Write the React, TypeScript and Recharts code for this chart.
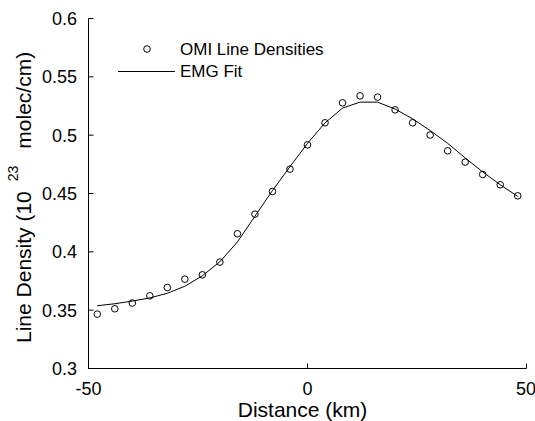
import { ComposedChart, Line, XAxis, YAxis, Legend } from "recharts";

const FONT = "'Liberation Sans', Arial, sans-serif";

const distances = [
  -48, -44, -40, -36, -32, -28, -24, -20, -16, -12, -8, -4, 0, 4, 8, 12, 16,
  20, 24, 28, 32, 36, 40, 44, 48,
];
const omiDensities = [
  0.3466, 0.3512, 0.3561, 0.3623, 0.3694, 0.3766, 0.3803, 0.3912, 0.4155,
  0.4323, 0.4517, 0.4709, 0.4917, 0.5106, 0.5277, 0.5337, 0.5326, 0.5217,
  0.5106, 0.5001, 0.4866, 0.4769, 0.4663, 0.4575, 0.448,
];
const emgFit = [
  0.3538, 0.3555, 0.3578, 0.3605, 0.3645, 0.3705, 0.3795, 0.3915, 0.4085,
  0.4305, 0.4525, 0.473, 0.493, 0.5105, 0.5232, 0.5283, 0.5283, 0.5224,
  0.514, 0.504, 0.493, 0.4805, 0.4685, 0.4575, 0.4475,
];
const xTicks = [-50, 0, 50];
const yTicks = [0.3, 0.35, 0.4, 0.45, 0.5, 0.55, 0.6];

const data = distances.map((x, i) => ({
  x,
  obs: omiDensities[i],
  fit: emgFit[i],
}));

const tickStyle = { fontSize: 18, fontFamily: FONT, fill: "#000" };

function YTitle() {
  return (
    <text
      transform="translate(31, 343) rotate(-90)"
      fontSize={21}
      fontFamily={FONT}
      fill="#000"
    >
      <tspan>Line Density (10</tspan>
      <tspan dx={10} dy={-13} fontSize={14}>
        23
      </tspan>
      <tspan dx={17} dy={13}>
        molec/cm)
      </tspan>
    </text>
  );
}

function XTitle(props: any) {
  const vb = props.viewBox || { x: 88.5, width: 438 };
  return (
    <text
      x={vb.x + vb.width / 2 - 5}
      y={417}
      textAnchor="middle"
      fontSize={21}
      fontFamily={FONT}
      fill="#000"
    >
      Distance (km)
    </text>
  );
}

function LegendBox() {
  return (
    <svg width={230} height={46} style={{ display: "block" }}>
      <circle cx={37} cy={11} r={3.3} fill="none" stroke="#000" strokeWidth={1} />
      <text x={70} y={17} fontSize={17} fontFamily={FONT} fill="#000">
        OMI Line Densities
      </text>
      <line x1={8} x2={65} y1={33.5} y2={33.5} stroke="#000" strokeWidth={1} />
      <text x={70} y={39} fontSize={17} fontFamily={FONT} fill="#000">
        EMG Fit
      </text>
    </svg>
  );
}

export default function App() {
  return (
    <div style={{ position: "absolute", left: 0, top: 0, background: "#fff" }}>
      <ComposedChart
        width={535}
        height={421}
        data={data}
        margin={{ top: 18.5, right: 8.5, left: 8.5, bottom: 12.5 }}
      >
        <XAxis
          dataKey="x"
          type="number"
          domain={[-50, 50]}
          ticks={xTicks}
          allowDataOverflow
          height={40}
          stroke="#000"
          tickSize={-5}
          tickMargin={18.5}
          tick={tickStyle}
          label={<XTitle />}
        />
        <YAxis
          type="number"
          domain={[0.3, 0.6]}
          ticks={yTicks}
          allowDataOverflow
          width={80}
          stroke="#000"
          tickSize={-5}
          tickMargin={16.5}
          tick={tickStyle}
          label={<YTitle />}
        />
        <Legend
          layout="vertical"
          verticalAlign="middle"
          align="center"
          wrapperStyle={{ left: 110, top: 38, width: 230 }}
          content={() => <LegendBox />}
        />
        <Line
          dataKey="obs"
          name="OMI Line Densities"
          stroke="none"
          isAnimationActive={false}
          dot={{ r: 3.3, fill: "none", stroke: "#000", strokeWidth: 1 }}
          activeDot={false}
        />
        <Line
          dataKey="fit"
          name="EMG Fit"
          type="linear"
          stroke="#000"
          strokeWidth={1}
          dot={false}
          activeDot={false}
          isAnimationActive={false}
        />
      </ComposedChart>
    </div>
  );
}
